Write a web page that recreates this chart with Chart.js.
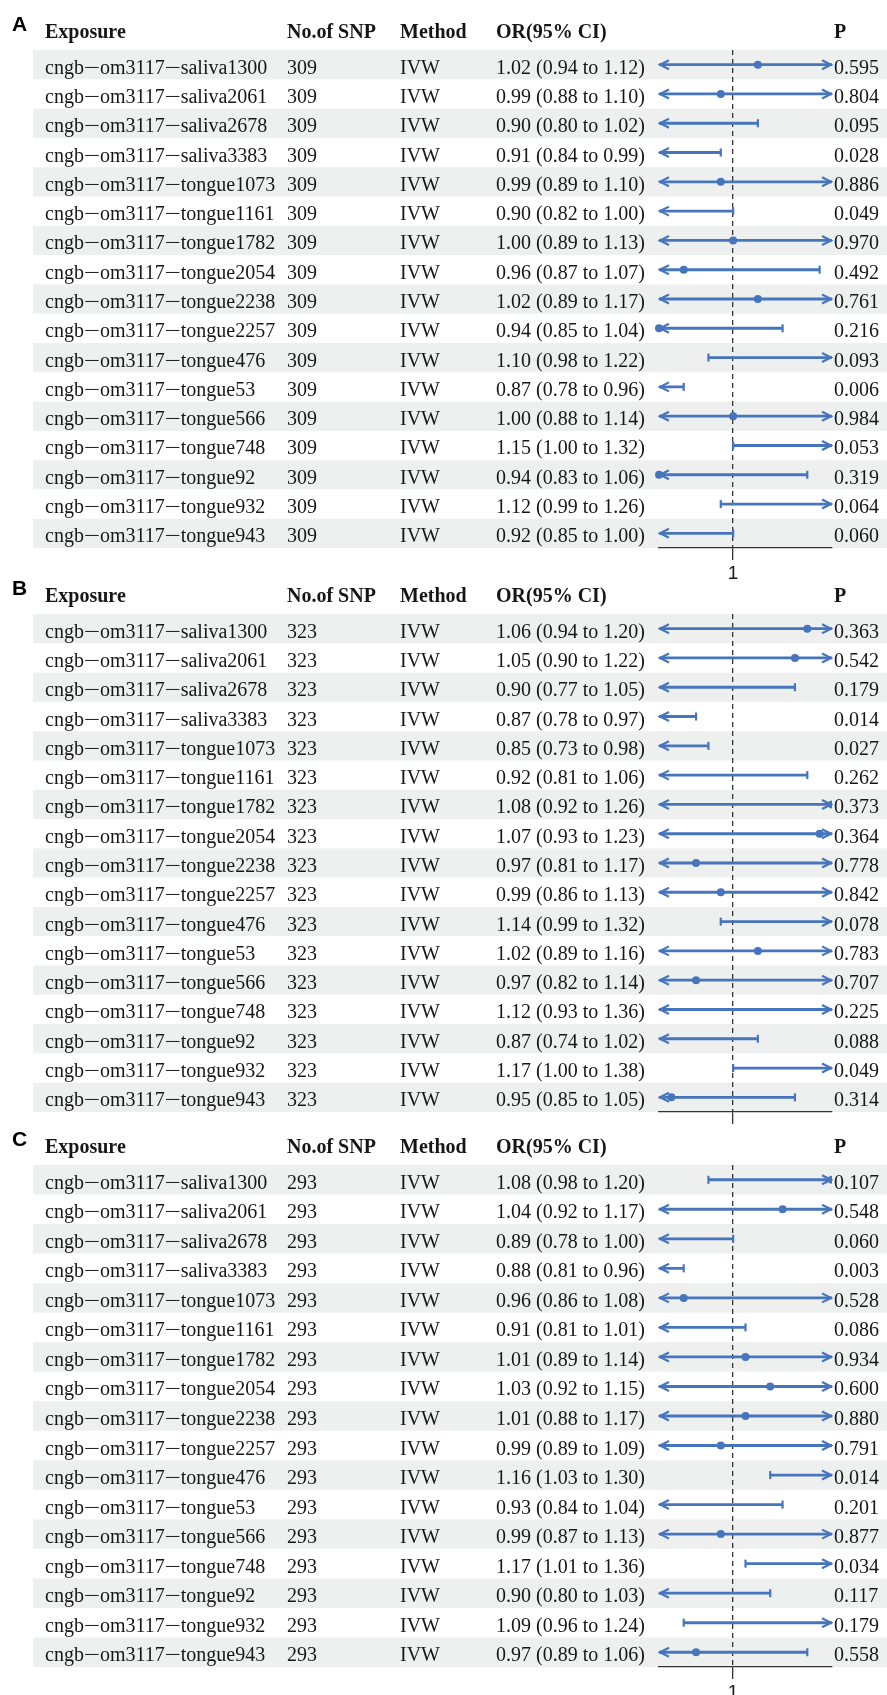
<!DOCTYPE html>
<html>
<head>
<meta charset="utf-8">
<script src="https://cdn.jsdelivr.net/npm/chart.js@4.4.0/dist/chart.umd.min.js"></script>
<style>
  html, body { margin: 0; padding: 0; background: #fff; overflow: hidden; }
  #page { position: relative; width: 887px; height: 1695px; }
  #page canvas { position: absolute; left: 0; }
</style>
</head>
<body>
<div id="page">
  <canvas id="panel-a"></canvas>
  <canvas id="panel-b"></canvas>
  <canvas id="panel-c"></canvas>
</div>
<script>
// exposures, same order in all three panels
const exposures = [
    'cngb−om3117−saliva1300', 'cngb−om3117−saliva2061', 'cngb−om3117−saliva2678',
    'cngb−om3117−saliva3383', 'cngb−om3117−tongue1073', 'cngb−om3117−tongue1161',
    'cngb−om3117−tongue1782', 'cngb−om3117−tongue2054', 'cngb−om3117−tongue2238',
    'cngb−om3117−tongue2257', 'cngb−om3117−tongue476', 'cngb−om3117−tongue53',
    'cngb−om3117−tongue566', 'cngb−om3117−tongue748', 'cngb−om3117−tongue92',
    'cngb−om3117−tongue932', 'cngb−om3117−tongue943'
];
const headers = ['Exposure', 'No.of SNP', 'Method', 'OR(95% CI)', 'P'];
const method = 'IVW';
const snpCounts = [309, 323, 293];
const xTicks = [1];
const xMin = 0.94;
const xMax = 1.08;

// panel A
const orA    = [1.02, 0.99, 0.90, 0.91, 0.99, 0.90, 1.00, 0.96, 1.02, 0.94, 1.10, 0.87, 1.00, 1.15, 0.94, 1.12, 0.92];
const lowerA = [0.94, 0.88, 0.80, 0.84, 0.89, 0.82, 0.89, 0.87, 0.89, 0.85, 0.98, 0.78, 0.88, 1.00, 0.83, 0.99, 0.85];
const upperA = [1.12, 1.10, 1.02, 0.99, 1.10, 1.00, 1.13, 1.07, 1.17, 1.04, 1.22, 0.96, 1.14, 1.32, 1.06, 1.26, 1.00];
const pA     = [0.595, 0.804, 0.095, 0.028, 0.886, 0.049, 0.970, 0.492, 0.761, 0.216, 0.093, 0.006, 0.984, 0.053, 0.319, 0.064, 0.060];

// panel B
const orB    = [1.06, 1.05, 0.90, 0.87, 0.85, 0.92, 1.08, 1.07, 0.97, 0.99, 1.14, 1.02, 0.97, 1.12, 0.87, 1.17, 0.95];
const lowerB = [0.94, 0.90, 0.77, 0.78, 0.73, 0.81, 0.92, 0.93, 0.81, 0.86, 0.99, 0.89, 0.82, 0.93, 0.74, 1.00, 0.85];
const upperB = [1.20, 1.22, 1.05, 0.97, 0.98, 1.06, 1.26, 1.23, 1.17, 1.13, 1.32, 1.16, 1.14, 1.36, 1.02, 1.38, 1.05];
const pB     = [0.363, 0.542, 0.179, 0.014, 0.027, 0.262, 0.373, 0.364, 0.778, 0.842, 0.078, 0.783, 0.707, 0.225, 0.088, 0.049, 0.314];

// panel C
const orC    = [1.08, 1.04, 0.89, 0.88, 0.96, 0.91, 1.01, 1.03, 1.01, 0.99, 1.16, 0.93, 0.99, 1.17, 0.90, 1.09, 0.97];
const lowerC = [0.98, 0.92, 0.78, 0.81, 0.86, 0.81, 0.89, 0.92, 0.88, 0.89, 1.03, 0.84, 0.87, 1.01, 0.80, 0.96, 0.89];
const upperC = [1.20, 1.17, 1.00, 0.96, 1.08, 1.01, 1.14, 1.15, 1.17, 1.09, 1.30, 1.04, 1.13, 1.36, 1.03, 1.24, 1.06];
const pC     = [0.107, 0.548, 0.060, 0.003, 0.528, 0.086, 0.934, 0.600, 0.880, 0.791, 0.014, 0.201, 0.877, 0.034, 0.117, 0.179, 0.558];

const BLUE = '#4675bd';
const BAND = '#eef0ef';
const INK = '#161616';
const AXIS = '#333333';
const bodyFont = '20px "Liberation Serif", "Times New Roman", serif';
const headFont = 'bold 20px "Liberation Serif", "Times New Roman", serif';
const letterFont = 'bold 21px "Liberation Sans", Arial, sans-serif';
const colX = [45, 287, 400, 496, 834];

// the minus in the names is a long thin one, stretch the serif glyph a bit
function drawName(ctx, name, x, y) {
    name.split('−').forEach((part, j) => {
        if (j > 0) {
            ctx.save();
            ctx.translate(x + 8, y);
            ctx.scale(1.45, 1);
            ctx.textAlign = 'center';
            ctx.fillText('−', 0, 0);
            ctx.restore();
            x += 16;
        }
        ctx.fillText(part, x, y);
        x += ctx.measureText(part).width;
    });
}

function drawArrow(ctx, tipX, y, dir) {
    ctx.beginPath();
    ctx.moveTo(tipX - dir * 9, y - 4.5);
    ctx.lineTo(tipX, y);
    ctx.lineTo(tipX - dir * 9, y + 4.5);
    ctx.stroke();
}

function drawCap(ctx, x, y) {
    ctx.beginPath();
    ctx.moveTo(x, y - 4);
    ctx.lineTo(x, y + 4);
    ctx.stroke();
}

function makePanel(canvasId, panel) {
    const canvas = document.getElementById(canvasId);
    canvas.width = 887;
    canvas.height = panel.height;
    canvas.style.top = panel.top + 'px';

    const rowIndex = exposures.map((e, i) => i + 1);

    const tablePlugin = {
        id: 'forestTable',
        beforeDraw(chart) {
            const { ctx, scales: { y } } = chart;
            const half = (y.getPixelForValue(2) - y.getPixelForValue(1)) / 2;
            ctx.save();
            ctx.fillStyle = BAND;
            rowIndex.forEach(k => {
                if (k % 2 === 1) {
                    const yc = y.getPixelForValue(k);
                    ctx.fillRect(33, yc - half, chart.width - 33, half * 2);
                }
            });
            ctx.restore();
        },
        afterDatasetsDraw(chart) {
            // arrows where the CI runs past the axis, caps where it ends inside
            const { ctx, chartArea, scales: { x, y } } = chart;
            ctx.save();
            ctx.strokeStyle = BLUE;
            ctx.lineWidth = 2.2;
            ctx.lineJoin = 'miter';
            panel.lower.forEach((lo, i) => {
                const yc = y.getPixelForValue(i + 1);
                const hi = panel.upper[i];
                if (lo <= x.min) drawArrow(ctx, chartArea.left + 1, yc, -1);
                else drawCap(ctx, x.getPixelForValue(lo), yc);
                if (hi >= x.max) drawArrow(ctx, chartArea.right - 1, yc, 1);
                else drawCap(ctx, x.getPixelForValue(hi), yc);
            });
            ctx.restore();
        },
        afterDraw(chart) {
            const { ctx, chartArea, scales: { y } } = chart;
            ctx.save();
            ctx.fillStyle = '#000';
            ctx.textBaseline = 'alphabetic';
            ctx.font = letterFont;
            ctx.fillText(panel.letter, 12, chartArea.top - 19);
            ctx.fillStyle = INK;
            ctx.font = headFont;
            headers.forEach((h, j) => ctx.fillText(h, colX[j], chartArea.top - 12));
            ctx.font = bodyFont;
            rowIndex.forEach((k, i) => {
                const yb = y.getPixelForValue(k) + 9;
                drawName(ctx, exposures[i], colX[0], yb);
                ctx.fillText(String(panel.snp), colX[1], yb);
                ctx.fillText(method, colX[2], yb);
                ctx.fillText(`${panel.or[i].toFixed(2)} (${panel.lower[i].toFixed(2)} to ${panel.upper[i].toFixed(2)})`, colX[3], yb);
                ctx.fillText(panel.p[i].toFixed(3), colX[4], yb);
            });
            ctx.restore();
        }
    };

    const ciData = panel.lower.map((lo, i) => ({ x: [lo, panel.upper[i]], y: i + 1 }));
    const orData = panel.or.map((v, i) => ({ x: v, y: i + 1 }));

    return new Chart(canvas, {
        type: 'scatter',
        data: {
            datasets: [
                {
                    type: 'bar',
                    indexAxis: 'y',
                    data: ciData,
                    backgroundColor: BLUE,
                    borderWidth: 0,
                    barThickness: 2.2,
                    grouped: false,
                    clip: 0,
                    order: 2
                },
                {
                    type: 'scatter',
                    data: orData,
                    backgroundColor: BLUE,
                    borderWidth: 0,
                    pointRadius: 4,
                    clip: { left: 4, right: 0, top: 20, bottom: 20 },
                    order: 1
                }
            ]
        },
        options: {
            responsive: false,
            animation: false,
            devicePixelRatio: 1,
            events: [],
            layout: { padding: { left: 659, right: 55, top: panel.rowsTop, bottom: 0 } },
            plugins: { legend: { display: false }, tooltip: { enabled: false } },
            scales: {
                x: {
                    type: 'linear',
                    min: xMin,
                    max: xMax,
                    afterBuildTicks: scale => { scale.ticks = xTicks.map(v => ({ value: v })); },
                    afterFit: scale => { scale.height = panel.height - panel.rowsTop - panel.rowsHeight; },
                    grid: {
                        drawOnChartArea: true,
                        drawTicks: true,
                        tickLength: 12,
                        color: AXIS,
                        lineWidth: 1.3,
                        tickColor: AXIS,
                        tickWidth: 1.3
                    },
                    border: { display: true, color: AXIS, width: 1.2, dash: [5, 4] },
                    ticks: {
                        display: panel.showTickLabel,
                        color: '#1a1a1a',
                        padding: 2,
                        font: { family: '"Liberation Sans", Arial, sans-serif', size: 19 },
                        callback: v => String(v)
                    }
                },
                y: { type: 'linear', min: 0.5, max: 17.5, reverse: true, display: false, offset: false }
            }
        },
        plugins: [tablePlugin]
    });
}

document.addEventListener('DOMContentLoaded', () => {
    makePanel('panel-a', {
        letter: 'A', snp: snpCounts[0], or: orA, lower: lowerA, upper: upperA, p: pA,
        top: 0, height: 585, rowsTop: 50, rowsHeight: 498, showTickLabel: true
    });
    makePanel('panel-b', {
        letter: 'B', snp: snpCounts[1], or: orB, lower: lowerB, upper: upperB, p: pB,
        top: 565, height: 560, rowsTop: 49, rowsHeight: 498, showTickLabel: false
    });
    makePanel('panel-c', {
        letter: 'C', snp: snpCounts[2], or: orC, lower: lowerC, upper: upperC, p: pC,
        top: 1115, height: 580, rowsTop: 50, rowsHeight: 502, showTickLabel: true
    });
});
</script>
</body>
</html>
